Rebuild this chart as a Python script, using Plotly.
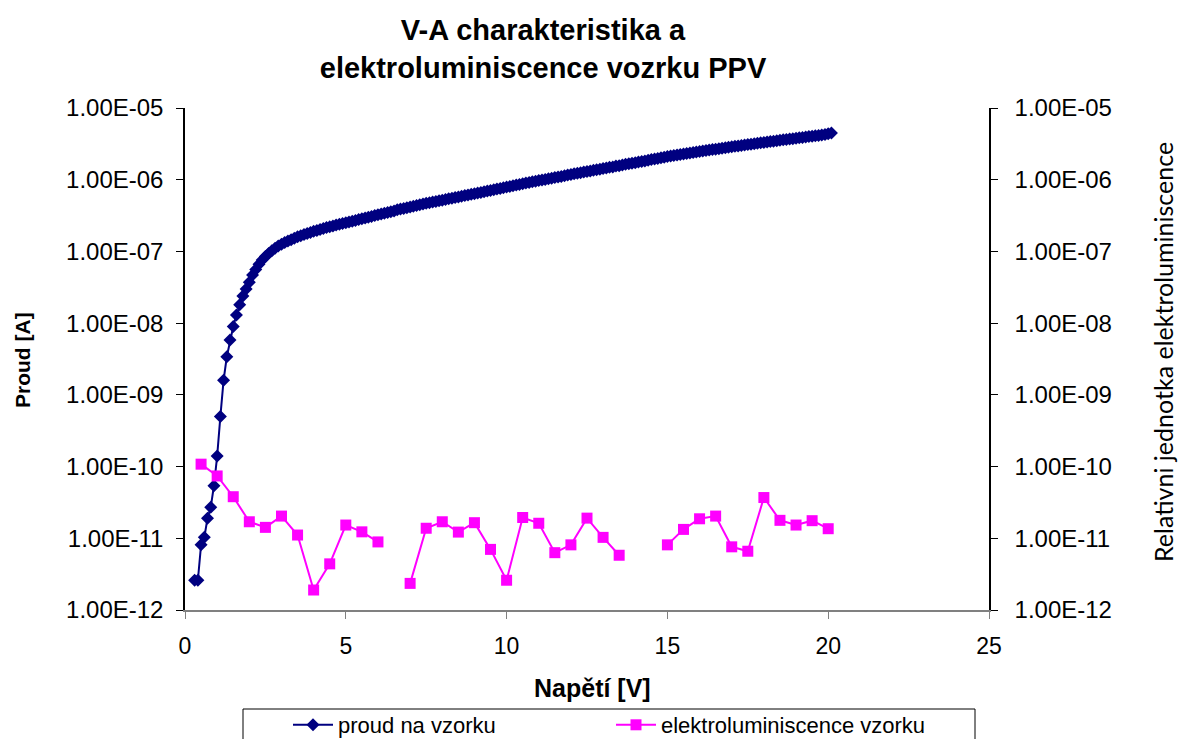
import plotly.graph_objects as go

# ---------------- data ----------------
napeti = [
    0.3, 0.4, 0.5, 0.6, 0.7, 0.8, 0.9,
    1.0, 1.1, 1.2, 1.3, 1.4, 1.5, 1.6, 1.7, 1.8, 1.9,
    2.0, 2.1, 2.2, 2.3, 2.4, 2.5, 2.6, 2.7, 2.8, 2.9,
    3.0, 3.1, 3.2, 3.3, 3.4, 3.5, 3.6, 3.7, 3.8, 3.9,
    4.0, 4.1, 4.2, 4.3, 4.4, 4.5, 4.6, 4.7, 4.8, 4.9,
    5.0, 5.1, 5.2, 5.3, 5.4, 5.5, 5.6, 5.7, 5.8, 5.9,
    6.0, 6.1, 6.2, 6.3, 6.4, 6.5, 6.6, 6.7, 6.8, 6.9,
    7.0, 7.1, 7.2, 7.3, 7.4, 7.5, 7.6, 7.7, 7.8, 7.9,
    8.0, 8.1, 8.2, 8.3, 8.4, 8.5, 8.6, 8.7, 8.8, 8.9,
    9.0, 9.1, 9.2, 9.3, 9.4, 9.5, 9.6, 9.7, 9.8, 9.9,
    10.0, 10.1, 10.2, 10.3, 10.4, 10.5, 10.6, 10.7, 10.8, 10.9,
    11.0, 11.1, 11.2, 11.3, 11.4, 11.5, 11.6, 11.7, 11.8, 11.9,
    12.0, 12.1, 12.2, 12.3, 12.4, 12.5, 12.6, 12.7, 12.8, 12.9,
    13.0, 13.1, 13.2, 13.3, 13.4, 13.5, 13.6, 13.7, 13.8, 13.9,
    14.0, 14.1, 14.2, 14.3, 14.4, 14.5, 14.6, 14.7, 14.8, 14.9,
    15.0, 15.1, 15.2, 15.3, 15.4, 15.5, 15.6, 15.7, 15.8, 15.9,
    16.0, 16.1, 16.2, 16.3, 16.4, 16.5, 16.6, 16.7, 16.8, 16.9,
    17.0, 17.1, 17.2, 17.3, 17.4, 17.5, 17.6, 17.7, 17.8, 17.9,
    18.0, 18.1, 18.2, 18.3, 18.4, 18.5, 18.6, 18.7, 18.8, 18.9,
    19.0, 19.1, 19.2, 19.3, 19.4, 19.5, 19.6, 19.7, 19.8, 19.9,
    20.0, 20.1,
]

proud = [
    2.6e-12, 2.6e-12, 8.1e-12, 1.03e-11, 1.9e-11, 2.7e-11, 5.4e-11,
    1.4e-10, 5.0e-10, 1.6e-9, 3.4e-9, 5.8e-9, 9.0e-9, 1.3e-8, 1.8e-8, 2.4e-8, 3.0e-8,
    3.72e-8, 4.68e-8, 5.62e-8, 6.61e-8, 7.59e-8, 8.51e-8, 9.33e-8, 1.02e-7, 1.11e-7, 1.19e-7,
    1.26e-7, 1.33e-7, 1.40e-7, 1.46e-7, 1.53e-7, 1.60e-7, 1.66e-7, 1.72e-7, 1.78e-7, 1.84e-7,
    1.91e-7, 1.96e-7, 2.02e-7, 2.08e-7, 2.15e-7, 2.21e-7, 2.27e-7, 2.33e-7, 2.39e-7, 2.45e-7,
    2.51e-7, 2.58e-7, 2.64e-7, 2.71e-7, 2.78e-7, 2.85e-7, 2.92e-7, 3.00e-7, 3.08e-7, 3.16e-7,
    3.24e-7, 3.32e-7, 3.40e-7, 3.49e-7, 3.58e-7, 3.67e-7, 3.80e-7, 3.89e-7, 3.98e-7, 4.07e-7,
    4.17e-7, 4.27e-7, 4.37e-7, 4.47e-7, 4.57e-7, 4.68e-7, 4.78e-7, 4.88e-7, 4.98e-7, 5.08e-7,
    5.19e-7, 5.30e-7, 5.41e-7, 5.52e-7, 5.64e-7, 5.75e-7, 5.87e-7, 6.00e-7, 6.12e-7, 6.25e-7,
    6.38e-7, 6.52e-7, 6.65e-7, 6.79e-7, 6.95e-7, 7.10e-7, 7.24e-7, 7.41e-7, 7.57e-7, 7.73e-7,
    7.91e-7, 8.07e-7, 8.24e-7, 8.43e-7, 8.61e-7, 8.79e-7, 8.99e-7, 9.18e-7, 9.35e-7, 9.55e-7,
    9.73e-7, 9.93e-7, 1.01e-6, 1.03e-6, 1.05e-6, 1.07e-6, 1.09e-6, 1.11e-6, 1.14e-6, 1.16e-6,
    1.18e-6, 1.21e-6, 1.23e-6, 1.25e-6, 1.28e-6, 1.30e-6, 1.32e-6, 1.35e-6, 1.38e-6, 1.40e-6,
    1.43e-6, 1.46e-6, 1.49e-6, 1.51e-6, 1.55e-6, 1.57e-6, 1.60e-6, 1.64e-6, 1.67e-6, 1.70e-6,
    1.73e-6, 1.77e-6, 1.80e-6, 1.83e-6, 1.87e-6, 1.91e-6, 1.94e-6, 1.98e-6, 2.02e-6, 2.06e-6,
    2.10e-6, 2.14e-6, 2.18e-6, 2.21e-6, 2.25e-6, 2.29e-6, 2.32e-6, 2.36e-6, 2.39e-6, 2.43e-6,
    2.47e-6, 2.51e-6, 2.55e-6, 2.59e-6, 2.63e-6, 2.67e-6, 2.71e-6, 2.75e-6, 2.80e-6, 2.84e-6,
    2.88e-6, 2.92e-6, 2.96e-6, 3.01e-6, 3.05e-6, 3.09e-6, 3.13e-6, 3.18e-6, 3.22e-6, 3.27e-6,
    3.31e-6, 3.36e-6, 3.40e-6, 3.45e-6, 3.50e-6, 3.55e-6, 3.60e-6, 3.65e-6, 3.70e-6, 3.74e-6,
    3.79e-6, 3.84e-6, 3.89e-6, 3.94e-6, 3.99e-6, 4.04e-6, 4.09e-6, 4.14e-6, 4.20e-6, 4.27e-6,
    4.37e-6, 4.47e-6,
]

napeti_el = [
    0.5, 1.0, 1.5, 2.0, 2.5, 3.0, 3.5, 4.0, 4.5, 5.0, 5.5, 6.0, 6.5,
    7.0, 7.5, 8.0, 8.5, 9.0, 9.5, 10.0, 10.5, 11.0, 11.5, 12.0, 12.5, 13.0, 13.5,
    14.0, 14.5, 15.0, 15.5, 16.0, 16.5, 17.0, 17.5, 18.0, 18.5, 19.0, 19.5, 20.0,
]
elektroluminiscence = [
    1.08e-10, 7.4e-11, 3.8e-11, 1.7e-11, 1.42e-11, 2.04e-11, 1.11e-11, 1.9e-12,
    4.4e-12, 1.53e-11, 1.23e-11, 8.9e-12, None,
    2.35e-12, 1.38e-11, 1.7e-11, 1.22e-11, 1.65e-11, 7.0e-12, 2.6e-12, 1.95e-11,
    1.62e-11, 6.3e-12, 8.1e-12, 1.91e-11, 1.03e-11, 5.8e-12,
    None, None, 8.1e-12, 1.33e-11, 1.87e-11, 2.04e-11, 7.6e-12, 6.6e-12, 3.7e-11,
    1.78e-11, 1.53e-11, 1.76e-11, 1.36e-11,
]

y_tick_vals = [1e-12, 1e-11, 1e-10, 1e-9, 1e-8, 1e-7, 1e-6, 1e-5]
y_tick_text = ["1.00E-12", "1.00E-11", "1.00E-10", "1.00E-09",
               "1.00E-08", "1.00E-07", "1.00E-06", "1.00E-05"]
x_tick_vals = [0, 5, 10, 15, 20, 25]

# ---------------- figure ----------------
FONT = "Liberation Sans, Arial, sans-serif"
W, H = 1181, 739
L, R, T, B = 185, 192, 108, 129
PW, PH = W - L - R, H - T - B


def px_x(x):  # pixel -> paper x
    return (x - L) / PW


def px_y(y):  # pixel -> paper y
    return (H - B - y) / PH


fig = go.Figure()
fig.add_trace(go.Scatter(
    x=napeti, y=proud, name="proud na vzorku",
    mode="lines+markers",
    line=dict(color="#000080", width=2),
    marker=dict(symbol="diamond", size=10, color="#000080"),
    yaxis="y",
))
fig.add_trace(go.Scatter(
    x=napeti_el, y=elektroluminiscence, name="elektroluminiscence vzorku",
    mode="lines+markers", connectgaps=False,
    line=dict(color="#FF00FF", width=2),
    marker=dict(symbol="square", size=11, color="#FF00FF"),
    yaxis="y2",
))

axis_common = dict(showgrid=False, zeroline=False, automargin=False,
                   ticks="outside", ticklen=7)

fig.update_layout(
    width=W, height=H,
    margin=dict(l=L, r=R, t=T, b=B, autoexpand=False),
    paper_bgcolor="white", plot_bgcolor="white",
    font=dict(family=FONT, color="black", size=20),
    title=dict(
        text="<b>V-A charakteristika a<br>elektroluminiscence vozrku PPV</b>",
        x=543 / W, xanchor="center", xref="container",
        y=1 - 40 / H, yanchor="middle", yref="container",
        font=dict(family=FONT, size=29, color="black"),
    ),
    xaxis=dict(
        range=[0, 25], tickvals=x_tick_vals,
        showline=True, linecolor="#808080", linewidth=1.5, tickcolor="#808080",
        tickfont=dict(size=23), ticklabelstandoff=8,
        **axis_common,
    ),
    yaxis=dict(
        type="log", range=[-12, -5],
        tickvals=y_tick_vals, ticktext=y_tick_text,
        showline=True, linecolor="black", linewidth=1.5, tickcolor="black",
        tickfont=dict(size=24), ticklabelstandoff=8,
        **axis_common,
    ),
    yaxis2=dict(
        type="log", range=[-12, -5], overlaying="y", side="right",
        tickvals=y_tick_vals, ticktext=y_tick_text,
        showline=True, linecolor="black", linewidth=1.5, tickcolor="black",
        tickfont=dict(size=24), ticklabelstandoff=12,
        **axis_common,
    ),
    legend=dict(
        orientation="h", x=288 / W, xanchor="left", xref="container",
        y=px_y(704), yanchor="top",
        borderwidth=0, bgcolor="rgba(0,0,0,0)",
        font=dict(family=FONT, size=22),
        entrywidth=268, itemwidth=40,
    ),
    showlegend=True,
    shapes=[dict(
        type="rect", xref="paper", yref="paper",
        x0=px_x(243), x1=px_x(975), y0=px_y(709), y1=px_y(760),
        line=dict(color="black", width=1), fillcolor="rgba(0,0,0,0)",
    )],
    annotations=[
        dict(text="<b>Proud [A]</b>", textangle=-90,
             x=px_x(22), y=px_y(360), xref="paper", yref="paper",
             xanchor="center", yanchor="middle", showarrow=False,
             font=dict(family=FONT, size=21)),
        dict(text="<b>Napětí [V]</b>",
             x=px_x(592), y=px_y(688), xref="paper", yref="paper",
             xanchor="center", yanchor="middle", showarrow=False,
             font=dict(family=FONT, size=25)),
        dict(text="Relativni jednotka elektroluminiscence", textangle=-90,
             x=px_x(1163), y=px_y(352), xref="paper", yref="paper",
             xanchor="center", yanchor="middle", showarrow=False,
             font=dict(family="Lato, sans-serif", size=25)),
    ],
)

fig.write_html("out.html")
